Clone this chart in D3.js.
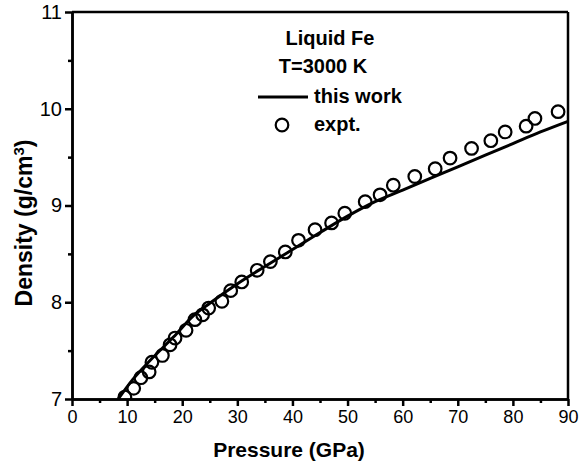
<!DOCTYPE html>
<html lang="en">
<head>
<meta charset="utf-8">
<script src="https://d3js.org/d3.v7.min.js"></script>
<title>Liquid Fe density</title>
<style>
 body { margin: 0; background: #fff; }
 svg text { font-family: "Liberation Sans", Arial, sans-serif; fill: #000; }
 .axis path, .axis line { stroke: #000; stroke-width: 2.5; }
 .axis text { font-size: 18px; }
 .axis.y text { font-size: 20px; }
</style>
</head>
<body>
<svg width="579" height="468"></svg>
<script>
// experimental points (GPa, g/cm3)
var exptP = [9.6, 11.2, 12.5, 14.0, 14.5, 16.4, 17.8, 18.7, 20.7, 22.3, 23.7, 24.8, 27.2, 28.8, 30.8, 33.6, 36.0, 38.7,
             41.1, 44.1, 47.1, 49.5, 53.2, 55.9, 58.3, 62.2, 65.9, 68.6, 72.5, 76.0, 78.6, 82.4, 84.0, 88.2];
var exptRho = [7.02, 7.11, 7.22, 7.28, 7.38, 7.45, 7.56, 7.63, 7.71, 7.82, 7.87, 7.94, 8.01, 8.12, 8.21, 8.33, 8.42, 8.52,
               8.64, 8.75, 8.82, 8.92, 9.04, 9.11, 9.21, 9.30, 9.38, 9.49, 9.59, 9.67, 9.76, 9.82, 9.90, 9.97];

// this work curve
var calcP = [8.4, 11, 14.2, 18.4, 22, 25, 30.5, 35, 39, 45, 50, 55, 60, 65, 70, 75, 80, 85, 90];
var calcRho = [7.0, 7.2, 7.4, 7.64, 7.86, 7.99, 8.21, 8.37, 8.51, 8.72, 8.89, 9.04, 9.16, 9.28, 9.40, 9.52, 9.64, 9.76, 9.87];

var xTicks = [0, 10, 20, 30, 40, 50, 60, 70, 80, 90];
var yTicks = [7, 8, 9, 10, 11];

var svg = d3.select("svg"),
    margin = {top: 12, right: 11, bottom: 69, left: 72},
    width = +svg.attr("width") - margin.left - margin.right,
    height = +svg.attr("height") - margin.top - margin.bottom,
    g = svg.append("g").attr("transform", "translate(" + margin.left + "," + margin.top + ")");

var x = d3.scaleLinear().domain([0, 90]).range([0, width]);
var y = d3.scaleLinear().domain([7, 11]).range([height, 0]);

// minor ticks
g.append("g")
    .attr("class", "axis")
    .attr("transform", "translate(0," + height + ")")
    .call(d3.axisBottom(x).tickValues(d3.range(5, 90, 10)).tickSize(4).tickSizeOuter(0).tickFormat(""));
g.append("g")
    .attr("class", "axis")
    .call(d3.axisLeft(y).tickValues([7.5, 8.5, 9.5, 10.5]).tickSize(4).tickSizeOuter(0).tickFormat(""));

g.append("g")
    .attr("class", "axis x")
    .attr("transform", "translate(0," + height + ")")
    .call(d3.axisBottom(x).tickValues(xTicks).tickSize(7).tickSizeOuter(0).tickPadding(4).tickFormat(d3.format("d")));

g.append("g")
    .attr("class", "axis y")
    .call(d3.axisLeft(y).tickValues(yTicks).tickSize(7).tickSizeOuter(0).tickPadding(3).tickFormat(d3.format("d")));

// top and right frame
g.append("line").attr("x1", 0).attr("x2", width).attr("y1", 0).attr("y2", 0)
    .attr("stroke", "#000").attr("stroke-width", 2.5);
g.append("line").attr("x1", width).attr("x2", width).attr("y1", 0).attr("y2", height)
    .attr("stroke", "#000").attr("stroke-width", 2.5);

svg.append("clipPath").attr("id", "clip")
  .append("rect").attr("width", width).attr("height", height + 8).attr("y", -8);

var line = d3.line()
    .x(function(d) { return x(d[0]); })
    .y(function(d) { return y(d[1]); })
    .curve(d3.curveMonotoneX);

g.append("path")
    .datum(d3.zip(calcP, calcRho))
    .attr("fill", "none")
    .attr("stroke", "#000")
    .attr("stroke-width", 3)
    .attr("d", line);

g.append("g").attr("clip-path", "url(#clip)")
  .selectAll("circle")
  .data(d3.zip(exptP, exptRho))
  .enter().append("circle")
    .attr("cx", function(d) { return x(d[0]); })
    .attr("cy", function(d) { return y(d[1]); })
    .attr("r", 6.3)
    .attr("fill", "none")
    .attr("stroke", "#000")
    .attr("stroke-width", 2.2);

// axis titles
svg.append("text")
    .attr("x", 289)
    .attr("y", 457)
    .attr("text-anchor", "middle")
    .style("font-size", "21px")
    .style("font-weight", "bold")
    .text("Pressure (GPa)");

var yl = svg.append("text")
    .attr("transform", "translate(32,223) rotate(-90)")
    .attr("text-anchor", "middle")
    .style("font-size", "23px")
    .style("font-weight", "bold");
yl.append("tspan").text("Density (g/cm");
yl.append("tspan").attr("baseline-shift", "super").style("font-size", "15px").text("3");
yl.append("tspan").text(")");

// legend
var leg = svg.append("g");
leg.append("text").attr("x", 330).attr("y", 45).attr("text-anchor", "middle")
    .style("font-size", "20px").style("font-weight", "bold").text("Liquid Fe");
leg.append("text").attr("x", 323).attr("y", 73).attr("text-anchor", "middle")
    .style("font-size", "20px").style("font-weight", "bold").text("T=3000 K");
leg.append("line").attr("x1", 258).attr("x2", 308).attr("y1", 97).attr("y2", 97)
    .attr("stroke", "#000").attr("stroke-width", 3);
leg.append("text").attr("x", 314).attr("y", 103)
    .style("font-size", "20px").style("font-weight", "bold").text("this work");
leg.append("circle").attr("cx", 282).attr("cy", 125).attr("r", 6.3)
    .attr("fill", "none").attr("stroke", "#000").attr("stroke-width", 2.2);
leg.append("text").attr("x", 314).attr("y", 131)
    .style("font-size", "20px").style("font-weight", "bold").text("expt.");
</script>
</body>
</html>
